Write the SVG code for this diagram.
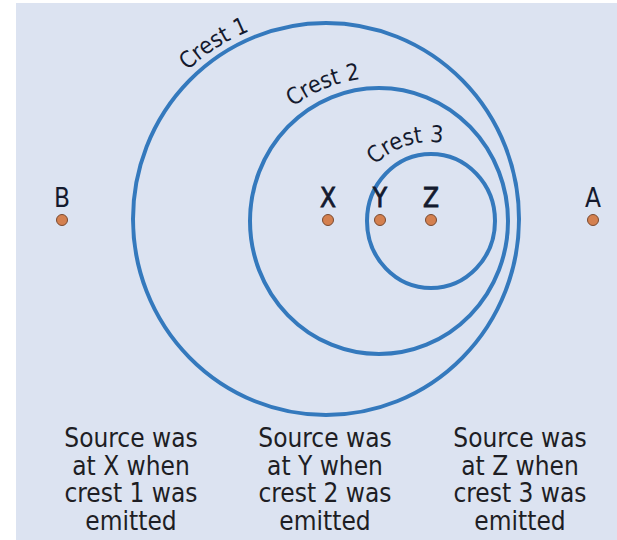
<svg xmlns="http://www.w3.org/2000/svg" width="617" height="540" viewBox="0 0 617 540">
<style>
.crest{fill:none;stroke:#3479bd;stroke-width:4}
.dot{fill:#d4804f;stroke:#7a4a30;stroke-width:1}
.lbl{font-family:"DejaVu Sans Condensed","DejaVu Sans",sans-serif;font-size:26px;fill:#141a2e;text-anchor:middle}
.bl{stroke:#141a2e;stroke-width:0.8}
.cl{font-family:"DejaVu Sans Condensed","DejaVu Sans",sans-serif;font-size:23px;fill:#141a2e}
.cap{font-family:"DejaVu Sans Condensed","DejaVu Sans",sans-serif;font-size:26px;fill:#1e1e24;text-anchor:middle}
</style>
<defs>
<path id="p1" d="M187.6,70.5 A203,203 0 0 1 427.5,43.2"/>
<path id="p2" d="M292.9,106.8 A143,143 0 0 1 488.5,129.1"/>
<path id="p3" d="M375.1,165.1 A79,79 0 0 1 505.2,194"/>
</defs>
<rect x="16" y="3" width="601" height="537" fill="#dce3f1"/>
<g id="connectors">
<ellipse class="crest" cx="326" cy="219" rx="193" ry="196"/>
<ellipse class="crest" cx="379" cy="221" rx="129" ry="133"/>
<ellipse class="crest" cx="431" cy="221" rx="64" ry="67"/>
</g>
<g id="crest-labels">
<text class="cl"><textPath href="#p1">Crest 1</textPath></text>
<text class="cl"><textPath href="#p2">Crest 2</textPath></text>
<text class="cl"><textPath href="#p3">Crest 3</textPath></text>
</g>
<g id="B"><text class="lbl" x="62" y="207">B</text><circle class="dot" cx="62" cy="220" r="5.5"/></g>
<g id="X"><text class="lbl bl" x="328" y="207">X</text><circle class="dot" cx="328" cy="220" r="5.5"/></g>
<g id="Y"><text class="lbl bl" x="380" y="207">Y</text><circle class="dot" cx="380" cy="220" r="5.5"/></g>
<g id="Z"><text class="lbl bl" x="431" y="207">Z</text><circle class="dot" cx="431" cy="220" r="5.5"/></g>
<g id="A"><text class="lbl" x="593" y="207">A</text><circle class="dot" cx="593" cy="220" r="5.5"/></g>
<g id="captions">
<text class="cap" x="131" y="447">Source was<tspan x="131" dy="27.5">at X when</tspan><tspan x="131" dy="27.5">crest 1 was</tspan><tspan x="131" dy="27.5">emitted</tspan></text>
<text class="cap" x="325" y="447">Source was<tspan x="325" dy="27.5">at Y when</tspan><tspan x="325" dy="27.5">crest 2 was</tspan><tspan x="325" dy="27.5">emitted</tspan></text>
<text class="cap" x="520" y="447">Source was<tspan x="520" dy="27.5">at Z when</tspan><tspan x="520" dy="27.5">crest 3 was</tspan><tspan x="520" dy="27.5">emitted</tspan></text>
</g>
</svg>
